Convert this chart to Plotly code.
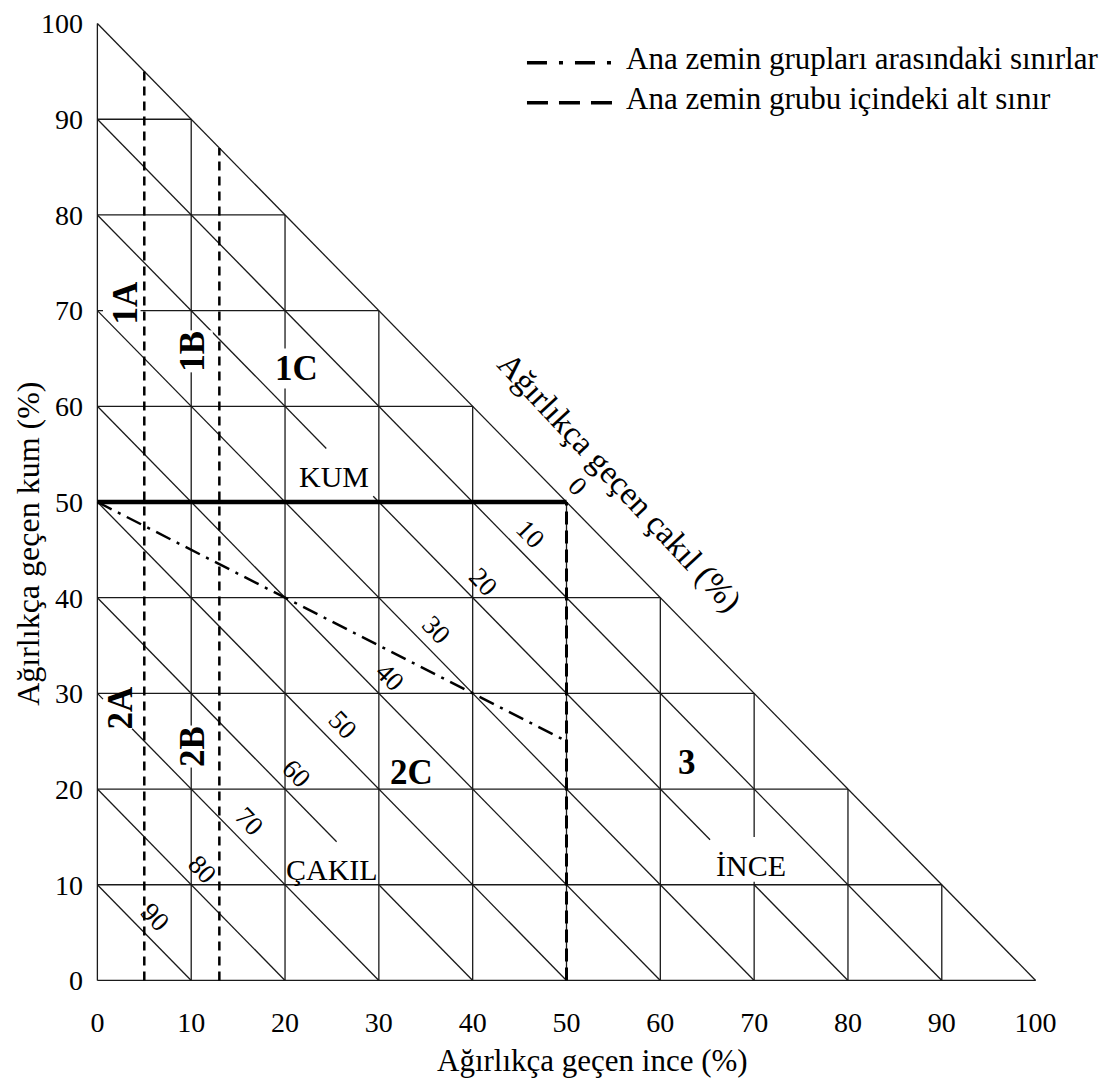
import plotly.graph_objects as go

# ---- data ----
grid_steps = [0, 10, 20, 30, 40, 50, 60, 70, 80, 90]          # grid values (%)
diag_sums = [10, 20, 30, 40, 50, 60, 70, 80, 90, 100]         # fine + sand = const lines
gravel_ticks = [0, 10, 20, 30, 40, 50, 60, 70, 80, 90]        # gravel % labels
axis_ticks = [0, 10, 20, 30, 40, 50, 60, 70, 80, 90, 100]

# gaps left open around labels
diag_gaps = {80: [(24.4, 29.4), (65.3, 70.0)], 40: [(25.5, 30.0)], 30: [(0.6, 3.7)]}  # fine % ranges
vert_gaps = {70: [(10.3, 15.0)]}                                                       # sand % ranges
horiz_gaps = {70: [(0.6, 4.6)]}                                                        # fine % ranges

# sub-group boundaries (dashed vertical lines at fine %)
sub_bounds = [5, 13]
# main group boundaries
main_fine_bound = 50        # vertical dash-dot at 50 % fine
sand_bound = 50             # thick solid line at 50 % sand
sand_gravel_fine = [0, 50]  # sand = gravel line: sand = (100 - fine)/2
sand_gravel_sand = [50, 25]

group_labels = ["1A", "1B", "1C", "2A", "2B", "2C", "3"]
group_x = [3.0, 10.2, 21.2, 2.5, 10.2, 33.5, 62.8]
group_y = [70.8, 65.7, 64.0, 28.5, 24.4, 21.7, 22.8]
group_rot = [-90, -90, 0, -90, -90, 0, 0]
group_mask = [False, True, True, False, True, False, False]   # label hides line below

zone_labels = ["KUM", "ÇAKIL", "İNCE"]
zone_x = [25.2, 25.0, 69.7]
zone_y = [52.7, 11.6, 12.0]

x_title = "Ağırlıkça geçen ince (%)"
y_title = "Ağırlıkça geçen kum (%)"
g_title = "Ağırlıkça geçen çakıl (%)"

FONT = "'Liberation Serif', 'Times New Roman', Times, 'DejaVu Serif', serif"
LC = "#1a1a1a"

def split_segment(p0, p1, gaps, coord):
    """split straight segment p0-p1 removing gap intervals along coordinate index coord"""
    segs = []
    a = p0
    for g0, g1 in sorted(gaps):
        t0 = (g0 - p0[coord]) / (p1[coord] - p0[coord])
        t1 = (g1 - p0[coord]) / (p1[coord] - p0[coord])
        if t0 > t1:
            t0, t1 = t1, t0
        q0 = (p0[0] + t0 * (p1[0] - p0[0]), p0[1] + t0 * (p1[1] - p0[1]))
        q1 = (p0[0] + t1 * (p1[0] - p0[0]), p0[1] + t1 * (p1[1] - p0[1]))
        segs.append((a, q0))
        a = q1
    segs.append((a, p1))
    return segs

gx, gy = [], []
def add(segs):
    for (a, b) in segs:
        gx.extend([a[0], b[0], None])
        gy.extend([a[1], b[1], None])

for v in grid_steps:
    p0, p1 = (0, v), (100 - v, v)
    add(split_segment(p0, p1, horiz_gaps[v], 0) if v in horiz_gaps else [(p0, p1)])
    p0, p1 = (v, 0), (v, 100 - v)
    add(split_segment(p0, p1, vert_gaps[v], 1) if v in vert_gaps else [(p0, p1)])
for c in diag_sums:
    p0, p1 = (0, c), (c, 0)
    add(split_segment(p0, p1, diag_gaps[c], 0) if c in diag_gaps else [(p0, p1)])

fig = go.Figure()
fig.add_trace(go.Scatter(x=gx, y=gy, mode="lines", line=dict(color=LC, width=1.3),
                         hoverinfo="skip", showlegend=False))

dx, dy = [], []
for b in sub_bounds:
    dx += [b, b, None]
    dy += [0, 100 - b, None]
fig.add_trace(go.Scatter(x=dx, y=dy, mode="lines",
                         line=dict(color="black", width=2.5, dash="9px,6px"),
                         hoverinfo="skip", showlegend=False))

fig.add_trace(go.Scatter(x=[0, 100 - sand_bound], y=[sand_bound, sand_bound], mode="lines",
                         line=dict(color="black", width=4.5), hoverinfo="skip", showlegend=False))

fig.add_trace(go.Scatter(x=[main_fine_bound, main_fine_bound], y=[0, 100 - main_fine_bound],
                         mode="lines", line=dict(color="black", width=3, dash="13px,6px"),
                         hoverinfo="skip", showlegend=False))

fig.add_trace(go.Scatter(x=sand_gravel_fine, y=sand_gravel_sand, mode="lines",
                         line=dict(color="black", width=2.5, dash="16px,7px,3px,7px"),
                         hoverinfo="skip", showlegend=False))

ann = []
for t, x, y, r, mk in zip(group_labels, group_x, group_y, group_rot, group_mask):
    a = dict(x=x, y=y, text="<b>%s</b>" % t, textangle=r, showarrow=False,
             font=dict(family=FONT, size=35, color="black"), borderpad=0)
    if mk:
        a["bgcolor"] = "white"
    ann.append(a)
for t, x, y in zip(zone_labels, zone_x, zone_y):
    ann.append(dict(x=x, y=y, text=t, showarrow=False,
                    font=dict(family=FONT, size=30, color="black")))
for g in gravel_ticks:
    m = (100 - g) / 2
    ann.append(dict(x=m, y=m, text=str(g), showarrow=False, textangle=46,
                    xshift=11, yshift=16,
                    font=dict(family=FONT, size=27, color="black")))
ann.append(dict(x=55.6, y=52.0, text=g_title, showarrow=False,
                textangle=47, font=dict(family=FONT, size=33, color="black")))
# axis titles
ann.append(dict(x=52.8, y=-0.072, xref="x", yref="paper", text=x_title, showarrow=False,
                yanchor="middle", font=dict(family=FONT, size=31, color="black")))
ann.append(dict(x=-0.063, y=45.6, xref="paper", yref="y", text=y_title, showarrow=False,
                textangle=-90, xanchor="center",
                font=dict(family=FONT, size=32, color="black")))

leg_items = [("Ana zemin grupları arasındaki sınırlar", "20px,12px,4px,12px", 0.950),
             ("Ana zemin grubu içindeki alt sınır", "21px,11px", 0.909)]
shapes = []
for txt, dash, yy in leg_items:
    shapes.append(dict(type="line", xref="paper", yref="paper", x0=0.4587, x1=0.5507,
                       y0=yy, y1=yy, line=dict(color="black", width=3.5, dash=dash)))
    ann.append(dict(xref="paper", yref="paper", x=0.5600, y=yy + 0.004, xanchor="left",
                    yanchor="middle", text=txt, showarrow=False,
                    font=dict(family=FONT, size=31, color="black")))

fig.update_layout(
    width=1107, height=1079,
    margin=dict(l=88, r=62, t=8, b=89),
    paper_bgcolor="white", plot_bgcolor="white",
    annotations=ann, shapes=shapes,
    font=dict(family=FONT, color="black"),
    xaxis=dict(range=[-1, 101], tickvals=axis_ticks, showgrid=False, zeroline=False,
               showline=False, ticks="", tickfont=dict(family=FONT, size=28),
               ticklabelstandoff=13),
    yaxis=dict(range=[-1, 101], tickvals=axis_ticks, showgrid=False, zeroline=False,
               showline=False, ticks="", tickfont=dict(family=FONT, size=28),
               ticklabelstandoff=4),
)

fig.write_html("out.html")
